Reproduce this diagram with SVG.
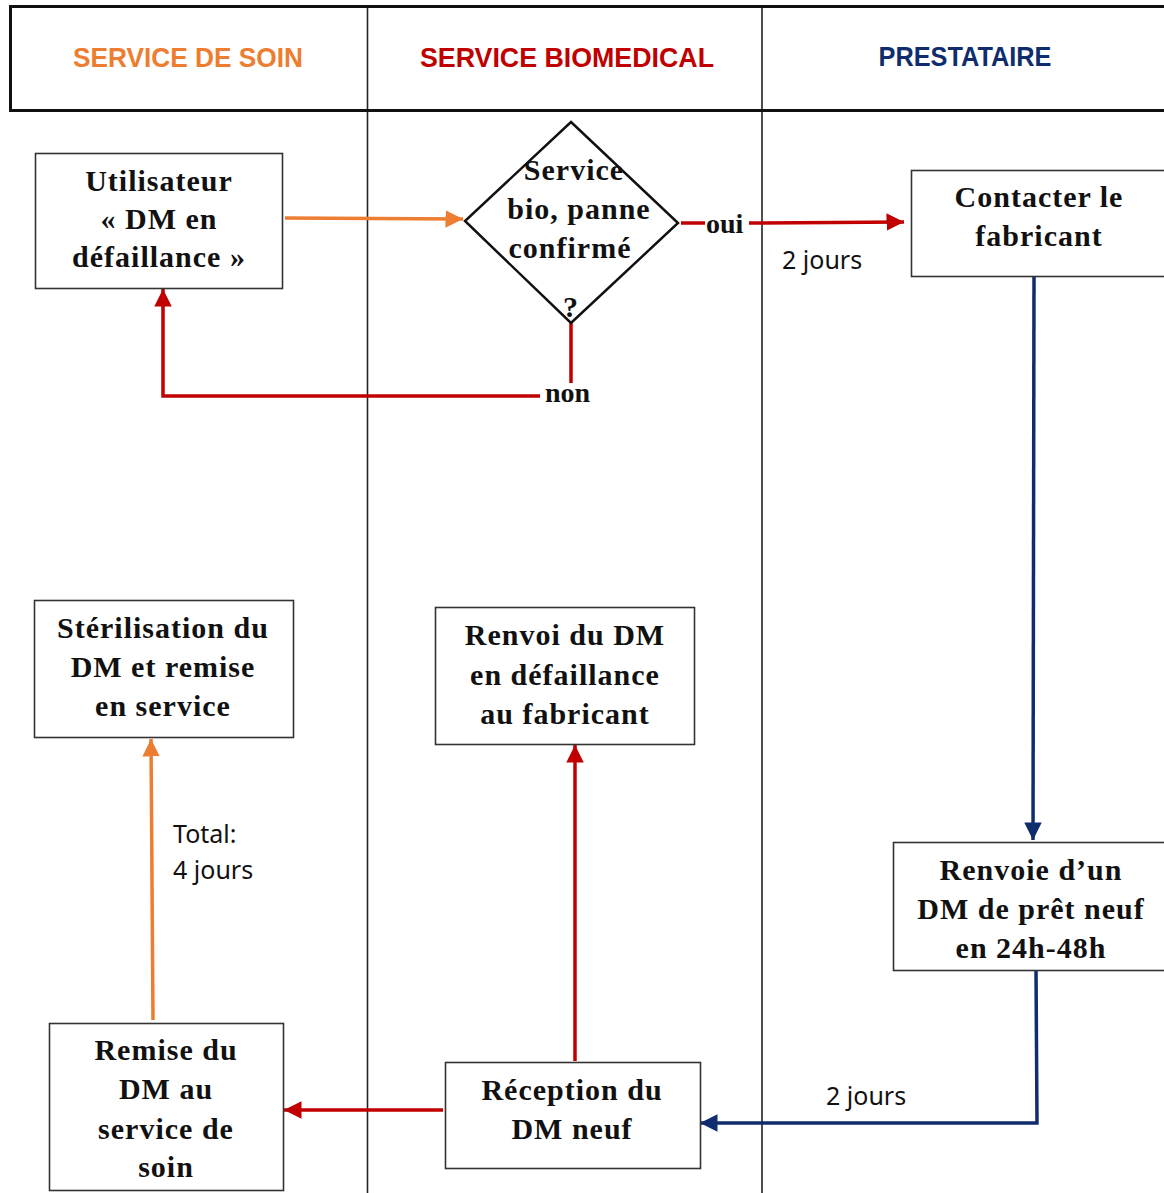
<svg xmlns="http://www.w3.org/2000/svg" width="1164" height="1193" viewBox="0 0 1164 1193">
  <style>
    .lane { fill: none; stroke: #222; stroke-width: 1.6; }
    .head { fill: none; stroke: #111; stroke-width: 3; }
    .box { fill: #fff; stroke: #333; stroke-width: 1.6; }
    .node { font-family: "Liberation Serif", "Times New Roman", serif; font-weight: bold; font-size: 30px; letter-spacing: 1px; fill: #111; text-anchor: middle; }
    .htitle { font-family: "Liberation Sans", Arial, sans-serif; font-weight: bold; font-size: 28px; text-anchor: middle; }
    .note { font-family: "Noto Sans", "Open Sans", sans-serif; font-size: 25px; fill: #111; }
    .lbl { font-family: "Liberation Serif", "Times New Roman", serif; font-weight: bold; font-size: 28px; fill: #111; }
    .orange { fill: none; stroke: #ED7D31; stroke-width: 3.5; }
    .red { fill: none; stroke: #C00000; stroke-width: 3.5; }
    .blue { fill: none; stroke: #0F2D6E; stroke-width: 3.5; }
  </style>
  <defs>
    <marker id="arrOrange" viewBox="0 0 10 10" refX="10" refY="5" markerWidth="5" markerHeight="5" orient="auto" markerUnits="strokeWidth">
      <path d="M0,0 L10,5 L0,10 Z" fill="#ED7D31"/>
    </marker>
    <marker id="arrRed" viewBox="0 0 10 10" refX="10" refY="5" markerWidth="5" markerHeight="5" orient="auto" markerUnits="strokeWidth">
      <path d="M0,0 L10,5 L0,10 Z" fill="#C00000"/>
    </marker>
    <marker id="arrBlue" viewBox="0 0 10 10" refX="10" refY="5" markerWidth="5" markerHeight="5" orient="auto" markerUnits="strokeWidth">
      <path d="M0,0 L10,5 L0,10 Z" fill="#0F2D6E"/>
    </marker>
  </defs>

  <rect width="1164" height="1193" fill="#fff"/>

  <!-- swimlanes -->
  <g id="lanes">
    <line class="lane" x1="367.5" y1="6" x2="367.5" y2="1193"/>
    <line class="lane" x1="762" y1="6" x2="762" y2="1193"/>
    <path class="head" d="M1166,6.5 H10.5 V110.5 H1166"/>
    <text class="htitle" x="188" y="67" fill="#ED7D31" textLength="230" lengthAdjust="spacingAndGlyphs">SERVICE DE SOIN</text>
    <text class="htitle" x="567" y="67" fill="#C00000" textLength="294" lengthAdjust="spacingAndGlyphs">SERVICE BIOMEDICAL</text>
    <text class="htitle" x="965" y="66" fill="#0F2D6E" textLength="173" lengthAdjust="spacingAndGlyphs">PRESTATAIRE</text>
  </g>

  <!-- connectors -->
  <g id="connectors">
    <line class="orange" x1="285" y1="218" x2="463" y2="219" marker-end="url(#arrOrange)"/>
    <line class="red" x1="681" y1="223" x2="705" y2="223"/>
    <line class="red" x1="749" y1="223" x2="904" y2="222" marker-end="url(#arrRed)"/>
    <line class="red" x1="571" y1="323" x2="571" y2="383"/>
    <polyline class="red" points="540,396 163,396 163,289" marker-end="url(#arrRed)"/>
    <line class="blue" x1="1034" y1="277" x2="1033" y2="840" marker-end="url(#arrBlue)"/>
    <polyline class="blue" points="1036,970 1037,1123 700,1123" marker-end="url(#arrBlue)"/>
    <line class="red" x1="575" y1="1061" x2="575" y2="745" marker-end="url(#arrRed)"/>
    <line class="red" x1="443" y1="1110" x2="284" y2="1110" marker-end="url(#arrRed)"/>
    <line class="orange" x1="153" y1="1020" x2="151" y2="739" marker-end="url(#arrOrange)"/>
    <text class="lbl" x="706" y="233">oui</text>
    <text class="lbl" x="545" y="402">non</text>
    <text class="note" x="782" y="269">2 jours</text>
    <text class="note" x="826" y="1105">2 jours</text>
    <text class="note" x="173" y="843">Total:</text>
    <text class="note" x="173" y="879">4 jours</text>
  </g>

  <!-- nodes -->
  <g id="utilisateur">
    <rect class="box" x="35.5" y="153.5" width="247" height="135"/>
    <text class="node" x="159" y="191">Utilisateur</text>
    <text class="node" x="159" y="229">« DM en</text>
    <text class="node" x="159" y="267">défaillance »</text>
  </g>

  <g id="decision">
    <polygon points="571,122 678,223 571,323 465,221" fill="#fff" stroke="#111" stroke-width="2.5"/>
    <text class="node" x="574" y="180">Service</text>
    <text class="node" x="579" y="219">bio, panne</text>
    <text class="node" x="570" y="258">confirmé</text>
    <text class="node" x="571" y="317">?</text>
  </g>

  <g id="contacter">
    <rect class="box" x="911.5" y="170.5" width="260" height="106"/>
    <text class="node" x="1039" y="207">Contacter le</text>
    <text class="node" x="1039" y="246">fabricant</text>
  </g>

  <g id="renvoie-pret">
    <rect class="box" x="893.5" y="842.5" width="280" height="128"/>
    <text class="node" x="1031" y="880">Renvoie d’un</text>
    <text class="node" x="1031" y="919">DM de prêt neuf</text>
    <text class="node" x="1031" y="958">en 24h-48h</text>
  </g>

  <g id="reception">
    <rect class="box" x="445.5" y="1062.5" width="255" height="106"/>
    <text class="node" x="572" y="1100">Réception du</text>
    <text class="node" x="572" y="1139">DM neuf</text>
  </g>

  <g id="renvoi-fabricant">
    <rect class="box" x="435.5" y="607.5" width="259" height="137"/>
    <text class="node" x="565" y="645">Renvoi du DM</text>
    <text class="node" x="565" y="685">en défaillance</text>
    <text class="node" x="565" y="724">au fabricant</text>
  </g>

  <g id="remise">
    <rect class="box" x="49.5" y="1023.5" width="234" height="167"/>
    <text class="node" x="166" y="1060">Remise du</text>
    <text class="node" x="166" y="1099">DM au</text>
    <text class="node" x="166" y="1139">service de</text>
    <text class="node" x="166" y="1177">soin</text>
  </g>

  <g id="sterilisation">
    <rect class="box" x="34.5" y="600.5" width="259" height="137"/>
    <text class="node" x="163" y="638">Stérilisation du</text>
    <text class="node" x="163" y="677">DM et remise</text>
    <text class="node" x="163" y="716">en service</text>
  </g>
</svg>
